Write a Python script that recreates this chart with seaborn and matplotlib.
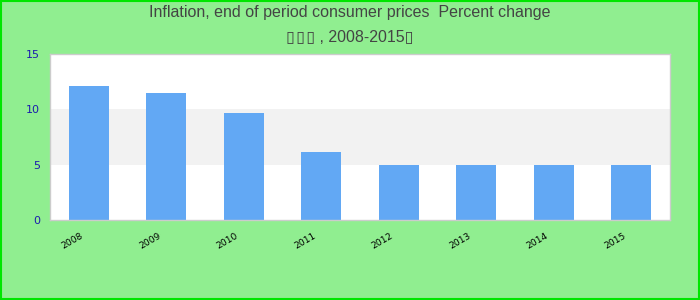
import matplotlib
matplotlib.use("Agg")
import matplotlib.pyplot as plt
import matplotlib.transforms as mtransforms
import seaborn as sns
import pandas as pd
from matplotlib.patches import Rectangle

years = ["2008", "2009", "2010", "2011", "2012", "2013", "2014", "2015"]
inflation = [12.1, 11.5, 9.7, 6.1, 5.0, 5.0, 5.0, 5.0]
y_ticks = [0, 5, 10, 15]
title_line1 = "Inflation, end of period consumer prices  Percent change"
title_line2 = "\u25af\u200a\u25af\u200a\u25af , 2008-2015\u25af"

df = pd.DataFrame({"year": years, "value": inflation})

sns.set_style("white")
plt.rcParams["font.family"] = ["Liberation Sans", "DejaVu Sans"]

fig = plt.figure(figsize=(7, 3), dpi=100, facecolor="#90ee90")
ax = fig.add_axes([50 / 700, 80 / 300, 620 / 700, 166 / 300])
ax.set_facecolor("white")

ax.axhspan(5, 10, color="#f2f2f2", zorder=0, lw=0)
sns.barplot(data=df, x="year", y="value", color="#62a8f4", saturation=1,
            width=0.52, ax=ax, zorder=2, linewidth=0)

ax.set_ylim(0, 15)
ax.set_xlim(-0.5, len(years) - 0.5)
ax.set_yticks(y_ticks)
ax.set_yticklabels([str(t) for t in y_ticks], color="#1c1cae", fontsize=8,
                   family="DejaVu Sans")
ax.tick_params(axis="y", length=0, pad=7)
ax.tick_params(axis="x", length=0, pad=5)
offset = mtransforms.ScaledTranslation(-4 / 100, -4 / 100, fig.dpi_scale_trans)
for lbl in ax.get_xticklabels():
    lbl.set_rotation(30)
    lbl.set_ha("right")
    lbl.set_rotation_mode("default")
    lbl.set_fontsize(6.6)
    lbl.set_family("DejaVu Sans")
    lbl.set_color("black")
    lbl.set_transform(lbl.get_transform() + offset)
ax.set_xlabel("")
ax.set_ylabel("")
for s in ax.spines.values():
    s.set_color("#cccccc")
    s.set_linewidth(1)

fig.text(0.5, 1 - 13 / 300, title_line1, ha="center", va="center",
         fontsize=11.5, color="#444444")
fig.text(0.5, 1 - 37 / 300, title_line2, ha="center", va="center",
         fontsize=11.5, color="#444444", family=["Liberation Sans", "DejaVu Sans"])

fig.patches.append(Rectangle((0.001, 0.002), 0.998, 0.996, transform=fig.transFigure,
                             fill=False, edgecolor="#00e600", lw=1.5))

fig.savefig("out.png", dpi=100, facecolor=fig.get_facecolor())
